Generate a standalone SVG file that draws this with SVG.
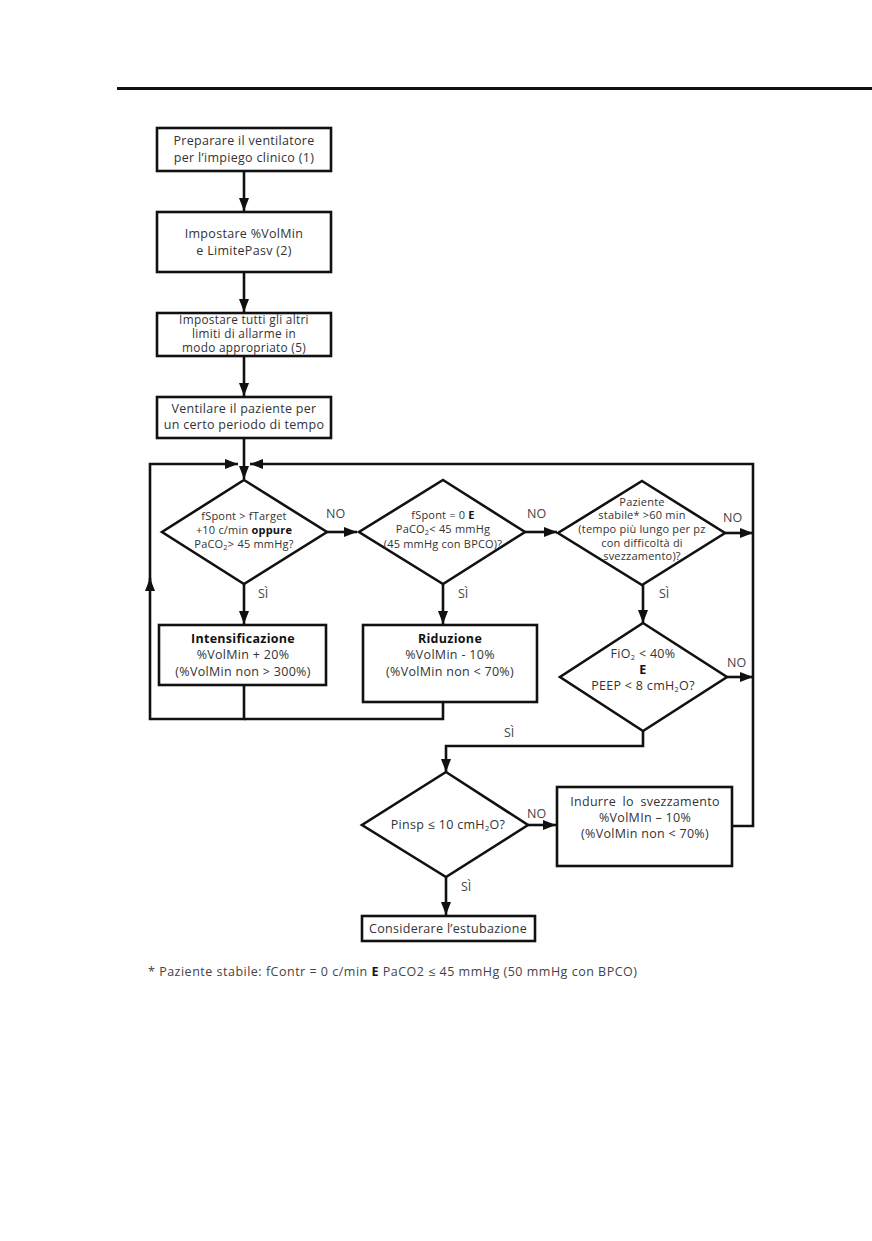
<svg xmlns="http://www.w3.org/2000/svg" width="872" height="1241" viewBox="0 0 872 1241">
<style>
.b{fill:#fff;stroke:#111;stroke-width:2.6}
.t{font-family:"Open Sans",Lato,"Liberation Sans",sans-serif;font-size:12.5px;fill:#333;text-anchor:middle;letter-spacing:0.3px}
.s{font-size:11.8px}
.xs{font-size:11px;letter-spacing:0.2px}
.bo{font-weight:bold;fill:#111}
.c{fill:none;stroke:#111;stroke-width:2.6}
.l{font-family:"Open Sans",Lato,"Liberation Sans",sans-serif;font-size:12.5px;fill:#444}
.sub{font-size:7.5px}
</style>
<defs>
<marker id="a" markerUnits="userSpaceOnUse" markerWidth="13" markerHeight="10" refX="13" refY="5" orient="auto">
<path d="M0,0 L13,5 L0,10 z" fill="#111"/>
</marker>
</defs>
<rect width="872" height="1241" fill="#fff"/>
<line x1="117" y1="88.5" x2="872" y2="88.5" stroke="#111" stroke-width="3"/>

<g id="connectors">
<line class="c" x1="244" y1="171" x2="244" y2="211" marker-end="url(#a)"/>
<line class="c" x1="244" y1="272" x2="244" y2="312" marker-end="url(#a)"/>
<line class="c" x1="244" y1="356" x2="244" y2="396" marker-end="url(#a)"/>
<line class="c" x1="244" y1="438" x2="244" y2="479" marker-end="url(#a)"/>
<polyline class="c" points="244,685 244,719 150,719 150,578" marker-end="url(#a)"/>
<polyline class="c" points="150,590 150,464 238,464" marker-end="url(#a)"/>
<polyline class="c" points="443,702 443,719 244,719"/>
<polyline class="c" points="732,826 753,826 753,464 250,464" marker-end="url(#a)"/>
<line class="c" x1="327" y1="532" x2="357" y2="532" marker-end="url(#a)"/>
<line class="c" x1="525" y1="532" x2="557" y2="532" marker-end="url(#a)"/>
<line class="c" x1="725" y1="533" x2="753" y2="533" marker-end="url(#a)"/>
<line class="c" x1="727" y1="677" x2="753" y2="677" marker-end="url(#a)"/>
<line class="c" x1="244" y1="584" x2="244" y2="624" marker-end="url(#a)"/>
<line class="c" x1="443" y1="584" x2="443" y2="624" marker-end="url(#a)"/>
<line class="c" x1="643" y1="585" x2="643" y2="623" marker-end="url(#a)"/>
<polyline class="c" points="643,731 643,746 446,746 446,772" marker-end="url(#a)"/>
<line class="c" x1="528" y1="825" x2="556" y2="825" marker-end="url(#a)"/>
<line class="c" x1="446" y1="877" x2="446" y2="915" marker-end="url(#a)"/>
<text class="l" x="326" y="518">NO</text>
<text class="l" x="527" y="518">NO</text>
<text class="l" x="723" y="522">NO</text>
<text class="l" x="727" y="667">NO</text>
<text class="l" x="527" y="818">NO</text>
<text class="l" x="258" y="598">SÌ</text>
<text class="l" x="458" y="598">SÌ</text>
<text class="l" x="659" y="598">SÌ</text>
<text class="l" x="504" y="737">SÌ</text>
<text class="l" x="461" y="891">SÌ</text>
</g>

<g id="n1">
<rect class="b" x="157" y="128" width="174" height="43"/>
<text class="t" x="244" y="145">Preparare il ventilatore</text>
<text class="t" x="244" y="162">per l’impiego clinico (1)</text>
</g>
<g id="n2">
<rect class="b" x="157" y="212" width="174" height="60"/>
<text class="t" x="244" y="238">Impostare %VolMin</text>
<text class="t" x="244" y="255">e LimitePasv (2)</text>
</g>
<g id="n3">
<rect class="b" x="157" y="313" width="174" height="43"/>
<text class="t s" x="244" y="324">Impostare tutti gli altri</text>
<text class="t s" x="244" y="338">limiti di allarme in</text>
<text class="t s" x="244" y="352">modo appropriato (5)</text>
</g>
<g id="n4">
<rect class="b" x="157" y="397" width="174" height="41"/>
<text class="t" x="244" y="413">Ventilare il paziente per</text>
<text class="t" x="244" y="429">un certo periodo di tempo</text>
</g>

<g id="d1">
<polygon class="b" points="244,480 327,532 244,584 162,532"/>
<text class="t xs" x="244" y="520">fSpont &gt; fTarget</text>
<text class="t xs" x="244" y="534">+10 c/min <tspan class="bo">oppure</tspan></text>
<text class="t xs" x="244" y="548">PaCO<tspan class="sub" dy="2">2</tspan><tspan dy="-2">&gt; 45 mmHg?</tspan></text>
</g>
<g id="d2">
<polygon class="b" points="443,480 525,532 443,584 359,532"/>
<text class="t xs" x="443" y="519">fSpont = 0 <tspan class="bo">E</tspan></text>
<text class="t xs" x="443" y="533">PaCO<tspan class="sub" dy="2">2</tspan><tspan dy="-2">&lt; 45 mmHg</tspan></text>
<text class="t xs" x="443" y="548">(45 mmHg con BPCO)?</text>
</g>
<g id="d3">
<polygon class="b" points="642,481 725,533 642,585 558,533"/>
<text class="t xs" x="642" y="506">Paziente</text>
<text class="t xs" x="642" y="519">stabile* &gt;60 min</text>
<text class="t xs" x="642" y="533">(tempo più lungo per pz</text>
<text class="t xs" x="642" y="547">con difficoltà di</text>
<text class="t xs" x="642" y="560">svezzamento)?</text>
</g>

<g id="n5">
<rect class="b" x="159" y="625" width="167" height="60"/>
<text class="t bo" x="243" y="643">Intensificazione</text>
<text class="t" x="243" y="659">%VolMin + 20%</text>
<text class="t" x="243" y="676">(%VolMin non &gt; 300%)</text>
</g>
<g id="n6">
<rect class="b" x="363" y="625" width="174" height="77"/>
<text class="t bo" x="450" y="643">Riduzione</text>
<text class="t" x="450" y="659">%VolMin - 10%</text>
<text class="t" x="450" y="676">(%VolMin non &lt; 70%)</text>
</g>

<g id="d4">
<polygon class="b" points="643,623 727,677 643,731 560,677"/>
<text class="t" x="643" y="658">FiO<tspan class="sub" dy="2">2</tspan><tspan dy="-2"> &lt; 40%</tspan></text>
<text class="t bo" x="643" y="674">E</text>
<text class="t" x="643" y="690">PEEP &lt; 8 cmH<tspan class="sub" dy="2">2</tspan><tspan dy="-2">O?</tspan></text>
</g>

<g id="d5">
<polygon class="b" points="446,772 528,825 446,877 362,825"/>
<text class="t" x="448" y="829">Pinsp ≤ 10 cmH<tspan class="sub" dy="2">2</tspan><tspan dy="-2">O?</tspan></text>
</g>

<g id="n7">
<rect class="b" x="557" y="787" width="175" height="79"/>
<text class="t" x="645" y="806" word-spacing="3">Indurre lo svezzamento</text>
<text class="t" x="645" y="822">%VolMIn – 10%</text>
<text class="t" x="645" y="838">(%VolMin non &lt; 70%)</text>
</g>

<g id="n8">
<rect class="b" x="362" y="916" width="173" height="25"/>
<text class="t" x="448" y="933">Considerare l’estubazione</text>
</g>

<text class="l" x="148" y="976" fill="#333" letter-spacing="0.5">* Paziente stabile: fContr = 0 c/min <tspan font-weight="bold" fill="#111">E</tspan> PaCO2 ≤ 45 mmHg (50 mmHg con BPCO)</text>
</svg>
